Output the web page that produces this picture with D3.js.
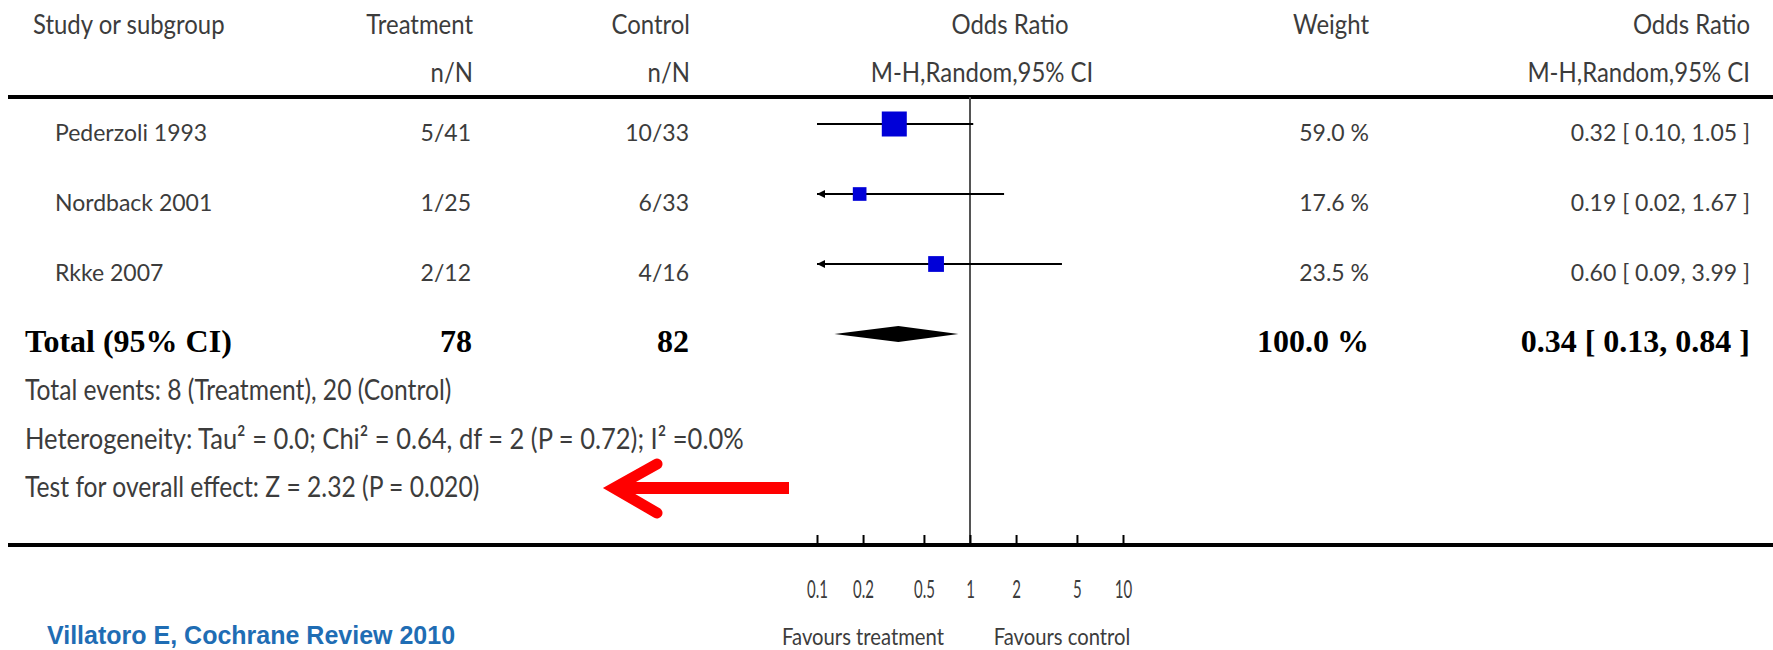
<!DOCTYPE html>
<html>
<head>
<meta charset="utf-8">
<script src="https://cdn.jsdelivr.net/npm/d3@7"></script>
<style>
  html, body { margin: 0; padding: 0; background: #fff; }
  svg { display: block; }
</style>
</head>
<body>
<svg id="chart" width="1773" height="650"></svg>
<script>
// ---------------- DATA ----------------
const headers1 = ["Study or subgroup", "Treatment", "Control", "Odds Ratio", "Weight", "Odds Ratio"];
const headers2 = ["", "n/N", "n/N", "M-H,Random,95% CI", "", "M-H,Random,95% CI"];
const studies = ["Pederzoli 1993", "Nordback 2001", "Rkke 2007"];
const treatmentNN = ["5/41", "1/25", "2/12"];
const controlNN = ["10/33", "6/33", "4/16"];
const oddsRatio = [0.32, 0.19, 0.60];
const ciLow = [0.10, 0.02, 0.09];
const ciHigh = [1.05, 1.67, 3.99];
const weights = [59.0, 17.6, 23.5];
const totalLabel = "Total (95% CI)";
const totalTreatment = 78;
const totalControl = 82;
const totalWeight = 100.0;
const totalOR = 0.34, totalLow = 0.13, totalHigh = 0.84;
const footnotes = [
  "Total events: 8 (Treatment), 20 (Control)",
  "Heterogeneity: Tau\u00B2 = 0.0; Chi\u00B2 = 0.64, df = 2 (P = 0.72); I\u00B2 =0.0%",
  "Test for overall effect: Z = 2.32 (P = 0.020)"
];
const tickValues = [0.1, 0.2, 0.5, 1, 2, 5, 10];
const tickLabels = ["0.1", "0.2", "0.5", "1", "2", "5", "10"];
const favourLabels = ["Favours treatment", "Favours control"];
const sourceNote = "Villatoro E, Cochrane Review 2010";

// ---------------- LAYOUT ----------------
const W = 1773, H = 650;
const svg = d3.select("#chart");
const SANS = "Lato, 'Noto Sans', sans-serif";
const SERIF = "'Liberation Serif', 'Times New Roman', serif";
const BOLD_BLUE = "'Liberation Sans', Arial, sans-serif";
const TEXT_GREY = "#3c3c3c";

const x = d3.scaleLog().domain([0.1, 10]).range([817, 1123]);
const rowKeys = [...studies, "__total"];
const y = d3.scalePoint().domain(rowKeys).range([124, 334]);
const boxSize = d3.scaleSqrt().domain([0, 59]).range([0, 25]);

const colStudyX = 55, colTreatX = 471, colCtrlX = 689, colWeightX = 1369, colEffX = 1750;

function squeeze(sel, k) {
  sel.each(function () {
    if (k === 1) return;
    const w = this.getComputedTextLength();
    this.setAttribute("textLength", (w * k).toFixed(1));
    this.setAttribute("lengthAdjust", "spacingAndGlyphs");
  });
  return sel;
}

function addText(g, xp, yp, str, anchor, size, k, opts = {}) {
  const t = g.append("text")
    .attr("x", xp).attr("y", yp)
    .attr("text-anchor", anchor)
    .attr("font-family", opts.family || SANS)
    .attr("font-size", size)
    .attr("font-weight", opts.weight || "normal")
    .attr("fill", opts.fill || TEXT_GREY)
    .text(str);
  squeeze(t, k);
  return t;
}

// ---------- header ----------
const hdr = svg.append("g");
const hPos = [[33, "start"], [473, "end"], [690, "end"], [1010, "middle"], [1293, "start"], [1750, "end"]];
const h2Pos = [[33, "start"], [473, "end"], [690, "end"], [982, "middle"], [1293, "start"], [1750, "end"]];
headers1.forEach((h, i) => { if (h) addText(hdr, hPos[i][0], 34, h, hPos[i][1], 26, 0.92); });
headers2.forEach((h, i) => { if (h) addText(hdr, h2Pos[i][0], 82, h, h2Pos[i][1], 26, 0.92); });

svg.append("line").attr("x1", 8).attr("x2", W).attr("y1", 97).attr("y2", 97)
  .attr("stroke", "#000").attr("stroke-width", 4);

// ---------- null line ----------
const axisY = 545;
svg.append("line")
  .attr("x1", x(1)).attr("x2", x(1)).attr("y1", 97).attr("y2", axisY)
  .attr("stroke", "#555").attr("stroke-width", 2);

// ---------- study rows ----------
const rows = svg.append("g");
studies.forEach((s, i) => {
  const yy = y(s);
  const ty = yy + 17;
  addText(rows, colStudyX, ty, s, "start", 23, 1);
  addText(rows, colTreatX, ty, treatmentNN[i], "end", 23, 1);
  addText(rows, colCtrlX, ty, controlNN[i], "end", 23, 1);
  addText(rows, colWeightX, ty, weights[i].toFixed(1) + " %", "end", 23, 1);
  addText(rows, colEffX, ty,
    `${oddsRatio[i].toFixed(2)} [ ${ciLow[i].toFixed(2)}, ${ciHigh[i].toFixed(2)} ]`, "end", 23, 1);

  const [d0, d1] = x.domain();
  const lo = Math.max(ciLow[i], d0), hi = Math.min(ciHigh[i], d1);
  rows.append("line")
    .attr("x1", x(lo)).attr("x2", x(hi)).attr("y1", yy).attr("y2", yy)
    .attr("stroke", "#000").attr("stroke-width", 2);
  if (ciLow[i] < d0) {
    const ax = x(d0);
    rows.append("path")
      .attr("d", `M${ax},${yy} L${ax + 8},${yy - 4} L${ax + 8},${yy + 4} Z`)
      .attr("fill", "#000");
  }
  if (ciHigh[i] > d1) {
    const ax = x(d1);
    rows.append("path")
      .attr("d", `M${ax},${yy} L${ax - 8},${yy - 4} L${ax - 8},${yy + 4} Z`)
      .attr("fill", "#000");
  }
  const b = boxSize(weights[i]);
  rows.append("rect")
    .attr("x", x(oddsRatio[i]) - b / 2).attr("y", yy - b / 2)
    .attr("width", b).attr("height", b)
    .attr("fill", "#0000d8");
});

// ---------- total row ----------
const ty0 = y("__total");
const tty = ty0 + 18;
const boldOpts = { family: SERIF, weight: "bold", fill: "#000" };
addText(rows, 25, tty, totalLabel, "start", 32, 1, boldOpts);
addText(rows, 472, tty, String(totalTreatment), "end", 32, 1, boldOpts);
addText(rows, 689, tty, String(totalControl), "end", 32, 1, boldOpts);
addText(rows, colWeightX, tty, totalWeight.toFixed(1) + " %", "end", 32, 1, boldOpts);
addText(rows, colEffX, tty,
  `${totalOR.toFixed(2)} [ ${totalLow.toFixed(2)}, ${totalHigh.toFixed(2)} ]`, "end", 32, 1, boldOpts);
rows.append("path")
  .attr("d", `M${x(totalLow)},${ty0} L${x(totalOR)},${ty0 - 8} L${x(totalHigh)},${ty0} L${x(totalOR)},${ty0 + 8} Z`)
  .attr("fill", "#000");

// ---------- footnotes ----------
const fn = svg.append("g");
const fnSqueeze = [0.85, 0.88, 0.85];
footnotes.forEach((f, i) => addText(fn, 25, 400 + i * 48.5, f, "start", 29, fnSqueeze[i]));

// ---------- red arrow annotation ----------
const arr = svg.append("g").attr("stroke", "#ff0000").attr("fill", "none");
arr.append("line").attr("x1", 618).attr("x2", 789).attr("y1", 488).attr("y2", 488)
  .attr("stroke-width", 12);
arr.append("polyline").attr("points", "657,464 614,488 657,513")
  .attr("stroke-width", 11).attr("stroke-linecap", "round").attr("stroke-linejoin", "miter");

// ---------- axis ----------
svg.append("line").attr("x1", 8).attr("x2", W).attr("y1", axisY).attr("y2", axisY)
  .attr("stroke", "#000").attr("stroke-width", 4);
const axis = d3.axisBottom(x)
  .tickValues(tickValues)
  .tickFormat((d, i) => tickLabels[i])
  .tickSizeInner(-10).tickSizeOuter(0).tickPadding(35);
const ag = svg.append("g").attr("transform", `translate(0,${axisY})`).call(axis);
ag.select(".domain").remove();
ag.selectAll(".tick line").attr("stroke", "#000").attr("stroke-width", 2);
ag.selectAll(".tick text")
  .attr("font-family", SANS).attr("font-size", 25).attr("fill", TEXT_GREY);
squeeze(ag.selectAll(".tick text"), 0.6);

addText(svg, 863, 645, favourLabels[0], "middle", 23, 0.88);
addText(svg, 1062, 645, favourLabels[1], "middle", 23, 0.88);

// ---------- source ----------
addText(svg, 47, 644, sourceNote, "start", 25, 1, { family: BOLD_BLUE, weight: "bold", fill: "#1f6db4" });
</script>
</body>
</html>
